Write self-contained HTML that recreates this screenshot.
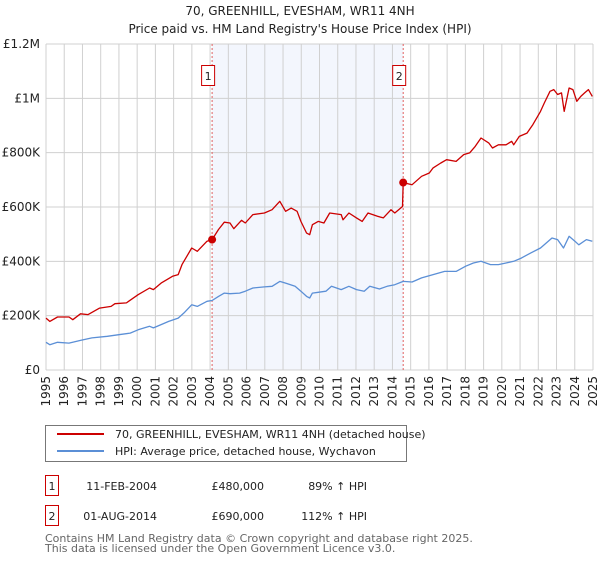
<!DOCTYPE html>
<html><head><meta charset="utf-8"><style>
body{margin:0;background:#fff;font-family:"DejaVu Sans","Liberation Sans",sans-serif;}
svg text{font-family:"DejaVu Sans","Liberation Sans",sans-serif;}
</style></head><body>
<svg id="chart" width="600" height="560" xmlns="http://www.w3.org/2000/svg">
<text x="300" y="15" text-anchor="middle" font-size="12" fill="#222">70, GREENHILL, EVESHAM, WR11 4NH</text>
<text x="300" y="33" text-anchor="middle" font-size="12" fill="#222">Price paid vs. HM Land Registry's House Price Index (HPI)</text>
<g id="grid"></g>
<g id="marks"></g>
<g id="axes"></g>
<rect x="45.5" y="425.5" width="361" height="36" fill="#fff" stroke="#777"/>
<line x1="57" y1="434" x2="104" y2="434" stroke="#cc0000" stroke-width="2"/>
<text x="115" y="438" font-size="11" fill="#222">70, GREENHILL, EVESHAM, WR11 4NH (detached house)</text>
<line x1="57" y1="451" x2="104" y2="451" stroke="#5b8fd6" stroke-width="2"/>
<text x="115" y="455" font-size="11" fill="#222">HPI: Average price, detached house, Wychavon</text>
<g>
<rect x="45.5" y="475.5" width="13" height="20" fill="none" stroke="#cc0000"/>
<text x="52" y="490" text-anchor="middle" font-size="11" fill="#222">1</text>
<text x="157" y="490" text-anchor="end" font-size="11" fill="#222">11-FEB-2004</text>
<text x="264" y="490" text-anchor="end" font-size="11" fill="#222">£480,000</text>
<text x="367" y="490" text-anchor="end" font-size="11" fill="#222">89% ↑ HPI</text>
</g>
<g>
<rect x="45.5" y="505.5" width="13" height="20" fill="none" stroke="#cc0000"/>
<text x="52" y="520" text-anchor="middle" font-size="11" fill="#222">2</text>
<text x="157" y="520" text-anchor="end" font-size="11" fill="#222">01-AUG-2014</text>
<text x="264" y="520" text-anchor="end" font-size="11" fill="#222">£690,000</text>
<text x="367" y="520" text-anchor="end" font-size="11" fill="#222">112% ↑ HPI</text>
</g>
<text x="45" y="542" font-size="11" fill="#666">Contains HM Land Registry data © Crown copyright and database right 2025.</text>
<text x="45" y="552" font-size="11" fill="#666">This data is licensed under the Open Government Licence v3.0.</text>
</svg>
<script>
const redYears=[1995.00,1995.21,1995.63,1996.26,1996.47,1996.89,1997.31,1997.94,1998.57,1998.78,1999.41,2000.05,2000.68,2000.89,2001.31,2001.94,2002.25,2002.46,2002.99,2003.30,2003.83,2004.11,2004.46,2004.78,2005.09,2005.30,2005.72,2005.93,2006.35,2006.98,2007.40,2007.82,2008.14,2008.45,2008.77,2008.98,2009.29,2009.46,2009.61,2009.93,2010.24,2010.56,2011.19,2011.29,2011.61,2012.03,2012.34,2012.66,2013.18,2013.50,2013.92,2014.13,2014.55,2014.59,2015.08,2015.60,2016.02,2016.23,2016.65,2016.97,2017.49,2017.91,2018.23,2018.54,2018.86,2019.28,2019.49,2019.81,2020.23,2020.54,2020.65,2020.96,2021.38,2021.70,2022.12,2022.33,2022.64,2022.85,2023.06,2023.27,2023.42,2023.69,2023.90,2024.11,2024.33,2024.54,2024.75,2024.96];
const redValues=[191,179,195,195,185,207,204,228,234,244,247,277,302,296,320,345,351,388,449,437,474,480,517,544,541,520,551,541,572,578,590,621,584,596,584,547,504,498,535,547,541,578,572,553,578,560,547,578,566,560,590,578,602,690,682,713,725,744,762,774,768,793,799,823,854,836,817,829,829,842,829,860,872,903,952,983,1026,1032,1014,1020,952,1038,1032,989,1007,1020,1032,1007];
const hpiYears=[1995.00,1995.21,1995.63,1996.26,1996.89,1997.52,1998.36,1998.99,1999.62,2000.05,2000.68,2000.89,2001.31,2001.73,2002.25,2002.57,2002.99,2003.30,2003.83,2004.11,2004.46,2004.78,2005.09,2005.62,2005.93,2006.35,2006.98,2007.40,2007.82,2008.14,2008.66,2008.98,2009.29,2009.46,2009.61,2009.93,2010.35,2010.66,2011.19,2011.61,2012.03,2012.45,2012.76,2013.29,2013.71,2014.13,2014.59,2015.08,2015.60,2016.23,2016.86,2017.49,2018.02,2018.44,2018.86,2019.38,2019.81,2020.23,2020.65,2021.07,2021.59,2022.12,2022.75,2023.06,2023.38,2023.69,2024.01,2024.22,2024.64,2024.96];
const hpiValues=[102,93,102,99,109,118,124,130,136,148,161,155,167,179,191,210,240,234,253,256,271,283,281,283,290,302,306,308,326,320,308,290,271,265,283,286,290,308,296,308,296,290,308,298,308,314,326,324,339,351,363,363,382,394,400,388,388,394,400,412,431,449,486,480,449,492,474,461,480,474];
const saleLabels=["1","2"];
const saleYears=[2004.11,2014.59];
const saleValues=[480,690];
const yTicks=[0,200,400,600,800,1000,1200];
const yTickLabels=["£0","£200K","£400K","£600K","£800K","£1M","£1.2M"];
const xTicks=[1995,1996,1997,1998,1999,2000,2001,2002,2003,2004,2005,2006,2007,2008,2009,2010,2011,2012,2013,2014,2015,2016,2017,2018,2019,2020,2021,2022,2023,2024,2025];

const L=46,R=593,T=44,B=370;
const X=y=>L+(y-1995)/30*(R-L);
const Y=v=>B-v/1200*(B-T);
const NS="http://www.w3.org/2000/svg";
function mk(parent,tag,attrs){const e=document.createElementNS(NS,tag);for(const k in attrs)e.setAttribute(k,attrs[k]);parent.appendChild(e);return e;}
const grid=document.getElementById('grid'),marks=document.getElementById('marks'),axes=document.getElementById('axes');
const shade=mk(grid,'rect',{x:X(saleYears[0]),y:T,width:X(saleYears[1])-X(saleYears[0]),height:B-T,fill:'#f3f6fd'});


xTicks.forEach(t=>{
  const l=mk(grid,'line',{x1:X(t),x2:X(t),y1:T,y2:B,stroke:'#d0d0d0','stroke-width':1});
  
  
  const tx=mk(axes,'text',{x:0,y:0,'font-size':12,fill:'#222','text-anchor':'end',transform:`translate(${X(t)+4},${B+6}) rotate(-90)`});
  tx.textContent=t;
  
  
});
yTicks.forEach((t,i)=>{
  const l=mk(grid,'line',{x1:L,x2:R,y1:Y(t),y2:Y(t),stroke:'#d0d0d0','stroke-width':1});
  
  
  const tx=mk(axes,'text',{x:L-6,y:Y(t)+4,'font-size':12,fill:'#222','text-anchor':'end'});
  tx.textContent=yTickLabels[i];
  
  
});
saleYears.forEach((s,i)=>{
  const l=mk(marks,'line',{x1:X(s),x2:X(s),y1:T,y2:B,stroke:'#e06060','stroke-width':1,'stroke-dasharray':'2,2'});
  
  
});
function path(xs,vs,color,name){
  const d=xs.map((x,i)=>(i?'L':'M')+X(x).toFixed(1)+','+Y(vs[i]).toFixed(1)).join('');
  const p=mk(marks,'path',{d:d,fill:'none',stroke:color,'stroke-width':1.3,'stroke-linejoin':'round'});
  
  
}
path(hpiYears,hpiValues,'#5b8fd6','hpi-line');
path(redYears,redValues,'#cc0000','property-price-line');
saleYears.forEach((s,i)=>{
  const c=mk(marks,'circle',{cx:X(s),cy:Y(saleValues[i]),r:4,fill:'#cc0000'});
  
  
  const bx=mk(marks,'rect',{x:X(s)-10.5,y:65.5,width:13,height:20,fill:'#fff',stroke:'#cc0000'});
  
  
  const t=mk(marks,'text',{x:X(s)-4,y:80,'font-size':11,'text-anchor':'middle',fill:'#222'});
  t.textContent=saleLabels[i];
  
  
});
</script>
</body></html>
